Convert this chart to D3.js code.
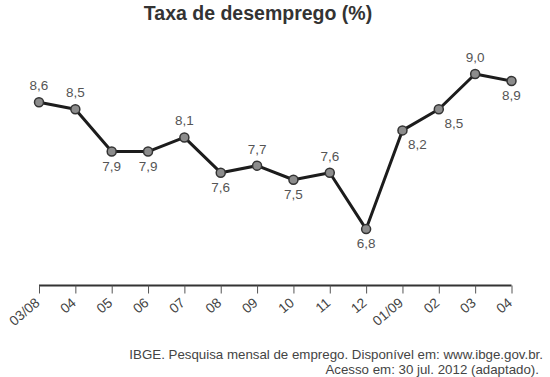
<!DOCTYPE html>
<html>
<head>
<meta charset="utf-8">
<script src="https://cdn.jsdelivr.net/npm/d3@7"></script>
<style>
  html, body { margin: 0; padding: 0; background: #fff; }
  svg { display: block; font-family: "Liberation Sans", Arial, sans-serif; }
</style>
</head>
<body>
<div id="chart"></div>
<script>
// Taxa de desemprego, mar/2008 a abr/2009
const months = ['03/08', '04', '05', '06', '07', '08', '09', '10', '11', '12', '01/09', '02', '03', '04'];
const rates = [8.6, 8.5, 7.9, 7.9, 8.1, 7.6, 7.7, 7.5, 7.6, 6.8, 8.2, 8.5, 9.0, 8.9];
// where each value label sits relative to its point
const labelSide = ['up', 'up', 'down', 'down', 'up', 'down', 'up', 'down', 'up', 'down', 'right', 'right', 'up', 'down'];

const width = 550, height = 377;
const axisY = 285.5;

const svg = d3.select('#chart').append('svg')
  .attr('width', width)
  .attr('height', height);

// scales (index domain: month labels repeat, e.g. "04")
const x = d3.scalePoint()
  .domain(d3.range(months.length))
  .range([39, 511.5]);

const y = d3.scaleLinear()
  .domain([6, 9])
  .range([axisY, 74]);

// title
svg.append('text')
  .attr('x', 258)
  .attr('y', 20)
  .attr('text-anchor', 'middle')
  .style('font-size', '19.5px')
  .style('font-weight', 'bold')
  .style('fill', '#333')
  .text('Taxa de desemprego (%)');

// x axis
const xAxis = svg.append('g')
  .attr('class', 'x-axis')
  .attr('transform', `translate(0,${axisY})`)
  .call(d3.axisBottom(x)
    .tickFormat(i => months[i])
    .tickSize(8)
    .tickSizeOuter(0)
    .tickPadding(0));

xAxis.select('.domain')
  .attr('d', `M${x.range()[0]},0H${x.range()[1]}`)
  .attr('stroke', '#333')
  .attr('stroke-width', 2);

xAxis.selectAll('.tick line')
  .attr('stroke', '#555')
  .attr('stroke-width', 1);

xAxis.selectAll('.tick text')
  .attr('text-anchor', 'end')
  .attr('x', 0)
  .attr('y', 0)
  .attr('dy', '0.35em')
  .attr('transform', 'translate(-2,15) rotate(-40)')
  .style('font-size', '13.8px')
  .style('font-family', '"Liberation Sans", Arial, sans-serif')
  .style('fill', '#444');

// line
const line = d3.line()
  .x((d, i) => x(i))
  .y(d => y(d));

svg.append('path')
  .datum(rates)
  .attr('fill', 'none')
  .attr('stroke', '#1c1c1c')
  .attr('stroke-width', 3)
  .attr('stroke-linejoin', 'round')
  .attr('d', line);

// points
svg.append('g')
  .selectAll('circle')
  .data(rates)
  .join('circle')
  .attr('cx', (d, i) => x(i))
  .attr('cy', d => y(d))
  .attr('r', 4.5)
  .attr('fill', '#8c8c8c')
  .attr('stroke', '#333')
  .attr('stroke-width', 1.5);

// value labels
const fmt = v => d3.format('.1f')(v).replace('.', ',');
svg.append('g')
  .selectAll('text')
  .data(rates)
  .join('text')
  .attr('x', (d, i) => x(i) + (labelSide[i] === 'right' ? 15 : 0))
  .attr('y', (d, i) => y(d) + (labelSide[i] === 'up' ? -12 : 19))
  .attr('text-anchor', 'middle')
  .style('font-size', '13.5px')
  .style('fill', '#555')
  .text(d => fmt(d));

// source
const source = svg.append('text')
  .attr('text-anchor', 'end')
  .style('font-size', '13.3px')
  .style('fill', '#444');

source.append('tspan')
  .attr('x', 543)
  .attr('y', 359)
  .text('IBGE. Pesquisa mensal de emprego. Disponível em: www.ibge.gov.br.');

source.append('tspan')
  .attr('x', 539)
  .attr('y', 374)
  .text('Acesso em: 30 jul. 2012 (adaptado).');
</script>
</body>
</html>
